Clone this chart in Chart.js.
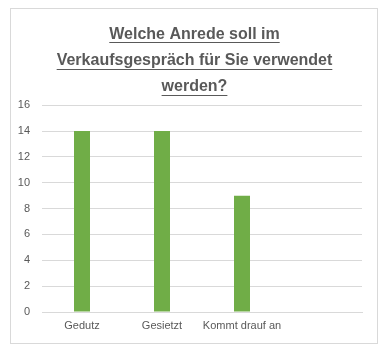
<!DOCTYPE html>
<html><head><meta charset="utf-8">
<script src="https://cdn.jsdelivr.net/npm/chart.js@4.4.0/dist/chart.umd.min.js"></script>
<style>html,body{margin:0;padding:0;background:#fff}#wrap{width:389px;height:355px;position:relative}</style>
</head><body><div id="wrap"><canvas id="c" width="389" height="355"></canvas></div>
<script>
const categories = ["Gedutz", "Gesietzt", "Kommt drauf an", ""];
const values = [14, 14, 9, null];
const titleLines = ["Welche Anrede soll im", "Verkaufsgespräch für Sie verwendet", "werden?"];
const yTicks = {min: 0, max: 16, step: 2};

const TITLE_FONT = {family: "'Liberation Sans', Arial, sans-serif", size: 16, weight: 'bold', lineHeight: 1.65};
const GREY = '#595959';

const deco = {
  id: 'deco',
  beforeDraw(chart) {
    const ctx = chart.ctx;
    ctx.save();
    ctx.strokeStyle = '#d9d9d9';
    ctx.lineWidth = 1;
    ctx.strokeRect(10.5, 8.5, 367, 335);
    ctx.restore();
  },
  afterDraw(chart) {
    const t = chart.titleBlock;
    const ctx = chart.ctx;
    ctx.save();
    ctx.font = `bold ${TITLE_FONT.size}px ${TITLE_FONT.family}`;
    ctx.strokeStyle = GREY;
    ctx.lineWidth = 1;
    const lh = TITLE_FONT.size * TITLE_FONT.lineHeight;
    const top = t.top + t.options.padding.top;
    const midX = t.left + t.width / 2;
    titleLines.forEach((l, i) => {
      const w = ctx.measureText(l).width;
      const y = Math.round(top + lh * i + lh / 2 + TITLE_FONT.size * 0.5) + 0.5;
      ctx.beginPath();
      ctx.moveTo(midX - w / 2, y);
      ctx.lineTo(midX + w / 2, y);
      ctx.stroke();
    });
    ctx.restore();
  }
};

new Chart(document.getElementById('c'), {
  type: 'bar',
  data: {
    labels: categories,
    datasets: [{
      data: values,
      backgroundColor: '#70ad47',
      barPercentage: 0.2,
      categoryPercentage: 1.0
    }]
  },
  options: {
    responsive: false,
    animation: false,
    layout: {padding: {top: 11, right: 0, bottom: 0, left: 0}},
    plugins: {
      legend: {display: false},
      tooltip: {enabled: false},
      title: {
        display: true,
        text: titleLines,
        color: GREY,
        font: TITLE_FONT,
        padding: {top: 10, bottom: 5}
      }
    },
    scales: {
      x: {
        grid: {display: false, drawTicks: false},
        border: {display: true, color: '#d9d9d9'},
        ticks: {color: GREY, font: {family: "'Liberation Sans', Arial, sans-serif", size: 11}, padding: 7, maxRotation: 0, autoSkip: false},
        afterFit(s) { s.height = 43; }
      },
      y: {
        min: yTicks.min, max: yTicks.max,
        grid: {color: '#d9d9d9', drawTicks: false},
        border: {display: false},
        ticks: {stepSize: yTicks.step, color: GREY, font: {family: "'Liberation Sans', Arial, sans-serif", size: 11}, padding: 12},
        afterFit(s) { s.width = 42; }
      },
      yRight: {
        position: 'right',
        min: yTicks.min, max: yTicks.max,
        grid: {display: false, drawTicks: false},
        border: {display: false},
        ticks: {display: false},
        afterFit(s) { s.width = 27; }
      }
    }
  },
  plugins: [deco]
});
</script></body></html>
